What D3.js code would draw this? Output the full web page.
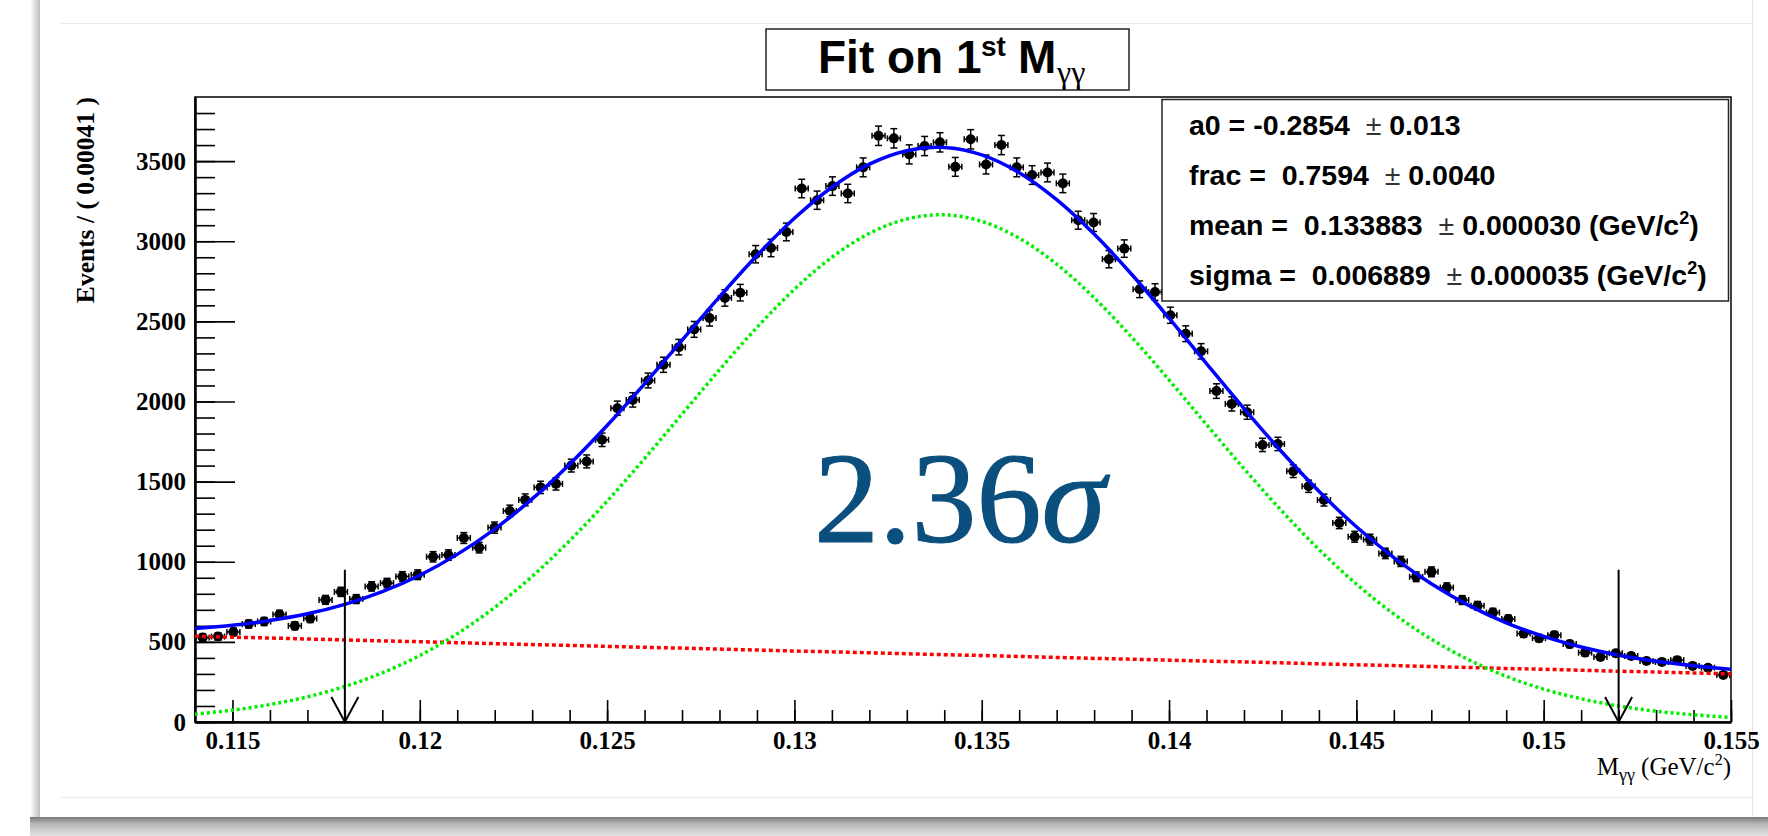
<!DOCTYPE html>
<html>
<head>
<meta charset="utf-8">
<script src="https://cdn.jsdelivr.net/npm/d3@7"></script>
<style>
  body { margin: 0; background: #ffffff; }
  svg { display: block; }
  text { white-space: pre; }
</style>
</head>
<body>
<div id="chart"></div>
<script>
// binned data: events per bin (bin width 0.00041, first bin starts at 0.114)
var binStart = 0.114;
var binWidth = 0.00041;
var counts = [
    527, 533, 562, 611, 627, 671, 600, 646, 762, 812,
    767, 846, 867, 908, 919, 1031, 1042, 1148, 1088, 1213,
    1317, 1386, 1464, 1486, 1600, 1626, 1761, 1958, 2010, 2131,
    2229, 2339, 2450, 2521, 2646, 2679, 2919, 2958, 3058, 3329,
    3256, 3344, 3298, 3461, 3658, 3642, 3542, 3594, 3617, 3464,
    3636, 3479, 3600, 3461, 3413, 3429, 3361, 3131, 3117, 2888,
    2954, 2700, 2683, 2538, 2423, 2313, 2065, 1985, 1933, 1729,
    1735, 1565, 1471, 1385, 1242, 1156, 1138, 1052, 1002, 906,
    937, 839, 761, 725, 683, 642, 552, 523, 542, 486,
    433, 406, 429, 412, 381, 375, 386, 350, 339, 294
];

// fit curves every 0.001
var curveX = [
    0.114, 0.115, 0.116, 0.117, 0.118, 0.119, 0.120, 0.121, 0.122, 0.123,
    0.124, 0.125, 0.126, 0.127, 0.128, 0.129, 0.130, 0.131, 0.132, 0.133,
    0.134, 0.135, 0.136, 0.137, 0.138, 0.139, 0.140, 0.141, 0.142, 0.143,
    0.144, 0.145, 0.146, 0.147, 0.148, 0.149, 0.150, 0.151, 0.152, 0.153,
    0.154, 0.155
];
var totalFit = [
    584, 603, 633, 675, 734, 813, 916, 1046, 1204, 1392,
    1609, 1850, 2110, 2382, 2653, 2911, 3143, 3337, 3481, 3565,
    3585, 3539, 3428, 3260, 3045, 2794, 2520, 2236, 1956, 1688,
    1440, 1218, 1026, 863, 728, 619, 534, 468, 417, 379,
    351, 329
];
var signalFit = [
    49, 74, 109, 157, 222, 307, 415, 551, 715, 909,
    1131, 1378, 1644, 1921, 2198, 2462, 2700, 2900, 3049, 3139,
    3165, 3124, 3019, 2857, 2647, 2402, 2134, 1856, 1581, 1319,
    1077, 861, 674, 517, 388, 285, 205, 145, 100, 67,
    45, 29
];
var bkgFit = [
    535, 529, 524, 518, 512, 506, 501, 495, 489, 483,
    478, 472, 466, 461, 455, 449, 443, 438, 432, 426,
    420, 415, 409, 403, 397, 392, 386, 380, 375, 369,
    363, 357, 352, 346, 340, 334, 329, 323, 317, 312,
    306, 300
];

// axis ticks
var xMajorTicks = [0.115, 0.12, 0.125, 0.13, 0.135, 0.14, 0.145, 0.15, 0.155];
var xTickLabels = ["0.115", "0.12", "0.125", "0.13", "0.135", "0.14", "0.145", "0.15", "0.155"];
var yMajorTicks = [0, 500, 1000, 1500, 2000, 2500, 3000, 3500];
var yTickLabels = ["0", "500", "1000", "1500", "2000", "2500", "3000", "3500"];

// mass window arrows
var cutValues = [0.118, 0.152];
var cutTop = 950;

// fit parameters box
var paramNames = ["a0 = ", "frac =  ", "mean =  ", "sigma =  "];
var paramValues = ["-0.2854", "0.7594", "0.133883", "0.006889"];
var paramErrors = ["0.013", "0.0040", "0.000030", "0.000035"];
var paramUnits = [false, false, true, true];

var W = 1768, H = 836;
var pLeft = 195, pRight = 1731, pTop = 97, pBottom = 722;
var serif = "'Liberation Serif', 'Times New Roman', serif";
var sans = "'Liberation Sans', Arial, Helvetica, sans-serif";

var svg = d3.select("#chart").append("svg")
    .attr("width", W)
    .attr("height", H);

var defs = svg.append("defs");
var sh = defs.append("linearGradient").attr("id", "leftShade")
    .attr("x1", "0").attr("x2", "1").attr("y1", "0").attr("y2", "0");
sh.append("stop").attr("offset", "0").attr("stop-color", "#ffffff");
sh.append("stop").attr("offset", "1").attr("stop-color", "#bdbdbd");
var bs = defs.append("linearGradient").attr("id", "bottomShade")
    .attr("x1", "0").attr("x2", "0").attr("y1", "0").attr("y2", "1");
bs.append("stop").attr("offset", "0").attr("stop-color", "#7a7a7a");
bs.append("stop").attr("offset", "0.35").attr("stop-color", "#b4b4b4");
bs.append("stop").attr("offset", "1").attr("stop-color", "#e4e4e4");
defs.append("clipPath").attr("id", "plotClip")
    .append("rect").attr("x", pLeft).attr("y", pTop)
    .attr("width", pRight - pLeft).attr("height", pBottom - pTop);

// slide background / shadows
svg.append("rect").attr("x", 30).attr("y", 0).attr("width", 10).attr("height", 817)
    .attr("fill", "url(#leftShade)");
svg.append("rect").attr("x", 30).attr("y", 817).attr("width", W - 30).attr("height", 19)
    .attr("fill", "url(#bottomShade)");
svg.append("line").attr("x1", 60).attr("x2", 1752).attr("y1", 23.5).attr("y2", 23.5)
    .attr("stroke", "#ececec");
svg.append("line").attr("x1", 60).attr("x2", 1752).attr("y1", 797.5).attr("y2", 797.5)
    .attr("stroke", "#ececec");
svg.append("line").attr("x1", 1752.5).attr("x2", 1752.5).attr("y1", 0).attr("y2", 817)
    .attr("stroke", "#e6e6e6");

// scales
var x = d3.scaleLinear().domain([0.114, 0.155]).range([pLeft, pRight]);
var y = d3.scaleLinear().domain([0, 3900]).range([pBottom, pTop]);

// frame
svg.append("rect")
    .attr("x", pLeft).attr("y", pTop)
    .attr("width", pRight - pLeft).attr("height", pBottom - pTop)
    .attr("fill", "none").attr("stroke", "#000").attr("stroke-width", 1.5);

// y axis: minor then major ticks (pointing into the frame)
svg.append("g")
    .attr("transform", "translate(" + pLeft + ",0)")
    .call(d3.axisLeft(y).tickValues(d3.range(0, 3801, 100)).tickSize(-20).tickFormat(""))
    .call(function (g) { g.select(".domain").remove(); })
    .selectAll("line").attr("stroke-width", 1.6);

var yAxis = svg.append("g")
    .attr("transform", "translate(" + pLeft + ",0)")
    .call(d3.axisLeft(y).tickValues(yMajorTicks).tickSize(-40).tickSizeOuter(0).tickPadding(9)
        .tickFormat(function (d, i) { return yTickLabels[i]; }));
yAxis.select(".domain").attr("stroke-width", 2.5);
yAxis.selectAll("line").attr("stroke-width", 1.6);
yAxis.selectAll("text")
    .attr("font-family", serif).attr("font-weight", "bold").attr("font-size", 25)
    .attr("fill", "#000");

// x axis
svg.append("g")
    .attr("transform", "translate(0," + pBottom + ")")
    .call(d3.axisBottom(x).tickValues(d3.range(41).map(function (i) { return 0.115 + i * 0.001; }))
        .tickSize(-12).tickFormat(""))
    .call(function (g) { g.select(".domain").remove(); })
    .selectAll("line").attr("stroke-width", 1.6);

var xAxis = svg.append("g")
    .attr("transform", "translate(0," + pBottom + ")")
    .call(d3.axisBottom(x).tickValues(xMajorTicks).tickSize(-22).tickSizeOuter(0).tickPadding(9)
        .tickFormat(function (d, i) { return xTickLabels[i]; }));
xAxis.select(".domain").attr("stroke-width", 2.5);
xAxis.selectAll("line").attr("stroke-width", 1.6);
xAxis.selectAll("text")
    .attr("font-family", serif).attr("font-weight", "bold").attr("font-size", 25)
    .attr("fill", "#000");

// axis titles
svg.append("text")
    .attr("transform", "translate(94," + pTop + ") rotate(-90)")
    .attr("text-anchor", "end")
    .attr("font-family", serif).attr("font-weight", "bold").attr("font-size", 25.5)
    .text("Events / ( 0.00041 )");

var xTitle = svg.append("text")
    .attr("x", pRight).attr("y", 775)
    .attr("text-anchor", "end")
    .attr("font-family", serif).attr("font-size", 25);
xTitle.append("tspan").text("M");
xTitle.append("tspan").attr("dy", 6).attr("font-size", 18).text("γγ");
xTitle.append("tspan").attr("dy", -6).text(" (GeV/c");
xTitle.append("tspan").attr("dy", -10).attr("font-size", 16).text("2");
xTitle.append("tspan").attr("dy", 10).text(")");

// data points with error bars
var points = counts.map(function (c, i) {
    return { x: binStart + (i + 0.5) * binWidth, n: c, err: Math.sqrt(c) };
});
var pts = svg.append("g").attr("stroke", "#000").attr("stroke-width", 1.5);
points.forEach(function (d) {
    var cx = x(d.x), cy = y(d.n), yl = y(d.n - d.err), yh = y(d.n + d.err);
    pts.append("line").attr("x1", cx).attr("x2", cx).attr("y1", yl).attr("y2", yh);
    pts.append("line").attr("x1", cx - 3.5).attr("x2", cx + 3.5).attr("y1", yl).attr("y2", yl);
    pts.append("line").attr("x1", cx - 3.5).attr("x2", cx + 3.5).attr("y1", yh).attr("y2", yh);
    pts.append("line").attr("x1", cx - 6.5).attr("x2", cx + 6.5).attr("y1", cy).attr("y2", cy);
    pts.append("line").attr("x1", cx - 6.5).attr("x2", cx - 6.5).attr("y1", cy - 3).attr("y2", cy + 3);
    pts.append("line").attr("x1", cx + 6.5).attr("x2", cx + 6.5).attr("y1", cy - 3).attr("y2", cy + 3);
});
svg.append("g").selectAll("circle")
    .data(points)
    .enter().append("circle")
    .attr("cx", function (d) { return x(d.x); })
    .attr("cy", function (d) { return y(d.n); })
    .attr("r", 5)
    .attr("fill", "#000");

// fit curves
var plotG = svg.append("g").attr("clip-path", "url(#plotClip)");
function fitLine(vals) {
    return d3.line()
        .x(function (d, i) { return x(curveX[i]); })
        .y(function (d) { return y(d); })
        .curve(d3.curveCatmullRom)(vals);
}
plotG.append("path").attr("d", fitLine(bkgFit))
    .attr("fill", "none").attr("stroke", "#ff0000").attr("stroke-width", 3.5)
    .attr("stroke-dasharray", "4,3");
plotG.append("path").attr("d", fitLine(signalFit))
    .attr("fill", "none").attr("stroke", "#00ee00").attr("stroke-width", 3.5)
    .attr("stroke-dasharray", "3,3");
plotG.append("path").attr("d", fitLine(totalFit))
    .attr("fill", "none").attr("stroke", "#0000ff").attr("stroke-width", 3.5);

// mass window arrows
cutValues.forEach(function (v) {
    var ax = x(v);
    svg.append("line").attr("x1", ax).attr("x2", ax).attr("y1", y(cutTop)).attr("y2", pBottom)
        .attr("stroke", "#000").attr("stroke-width", 2);
    svg.append("path")
        .attr("d", "M" + (ax - 13.5) + "," + (pBottom - 25) + "L" + ax + "," + pBottom + "L" + (ax + 13.5) + "," + (pBottom - 25))
        .attr("fill", "none").attr("stroke", "#000").attr("stroke-width", 2);
});

// significance label
var sig = svg.append("text")
    .attr("x", 814).attr("y", 542)
    .attr("font-family", serif).attr("font-size", 130)
    .attr("fill", "#0b4f7e")
    .attr("stroke", "#0b4f7e").attr("stroke-width", 1.2);
sig.append("tspan").text("2.36");
sig.append("tspan").attr("font-style", "italic").text("σ");

// title box
svg.append("rect")
    .attr("x", 766).attr("y", 29).attr("width", 363).attr("height", 61)
    .attr("fill", "#fff").attr("stroke", "#222").attr("stroke-width", 1.5);
var title = svg.append("text")
    .attr("x", 818).attr("y", 73)
    .attr("font-family", sans).attr("font-weight", "bold").attr("font-size", 46);
title.append("tspan").text("Fit on 1");
title.append("tspan").attr("x", 981).attr("dy", -17).attr("font-size", 28).text("st");
title.append("tspan").attr("x", 1018).attr("dy", 17).text("M");
title.append("tspan").attr("x", 1057).attr("dy", 10).attr("font-size", 32)
    .attr("font-weight", "normal").attr("font-family", serif).text("γγ");

// fit parameter box
svg.append("rect")
    .attr("x", 1162).attr("y", 99.5).attr("width", 566.5).attr("height", 201.5)
    .attr("fill", "#fff").attr("stroke", "#222").attr("stroke-width", 1.5);
paramNames.forEach(function (name, i) {
    var t = svg.append("text")
        .attr("x", 1189).attr("y", 135 + i * 50)
        .attr("font-family", sans).attr("font-weight", "bold").attr("font-size", 28.5);
    t.append("tspan").text(name + paramValues[i] + "  ");
    t.append("tspan").attr("font-weight", "normal").attr("fill", "#333").text("±");
    t.append("tspan").text(" " + paramErrors[i]);
    if (paramUnits[i]) {
        t.append("tspan").text(" (GeV/c");
        t.append("tspan").attr("dy", -11).attr("font-size", 18).text("2");
        t.append("tspan").attr("dy", 11).text(")");
    }
});
</script>
</body>
</html>
